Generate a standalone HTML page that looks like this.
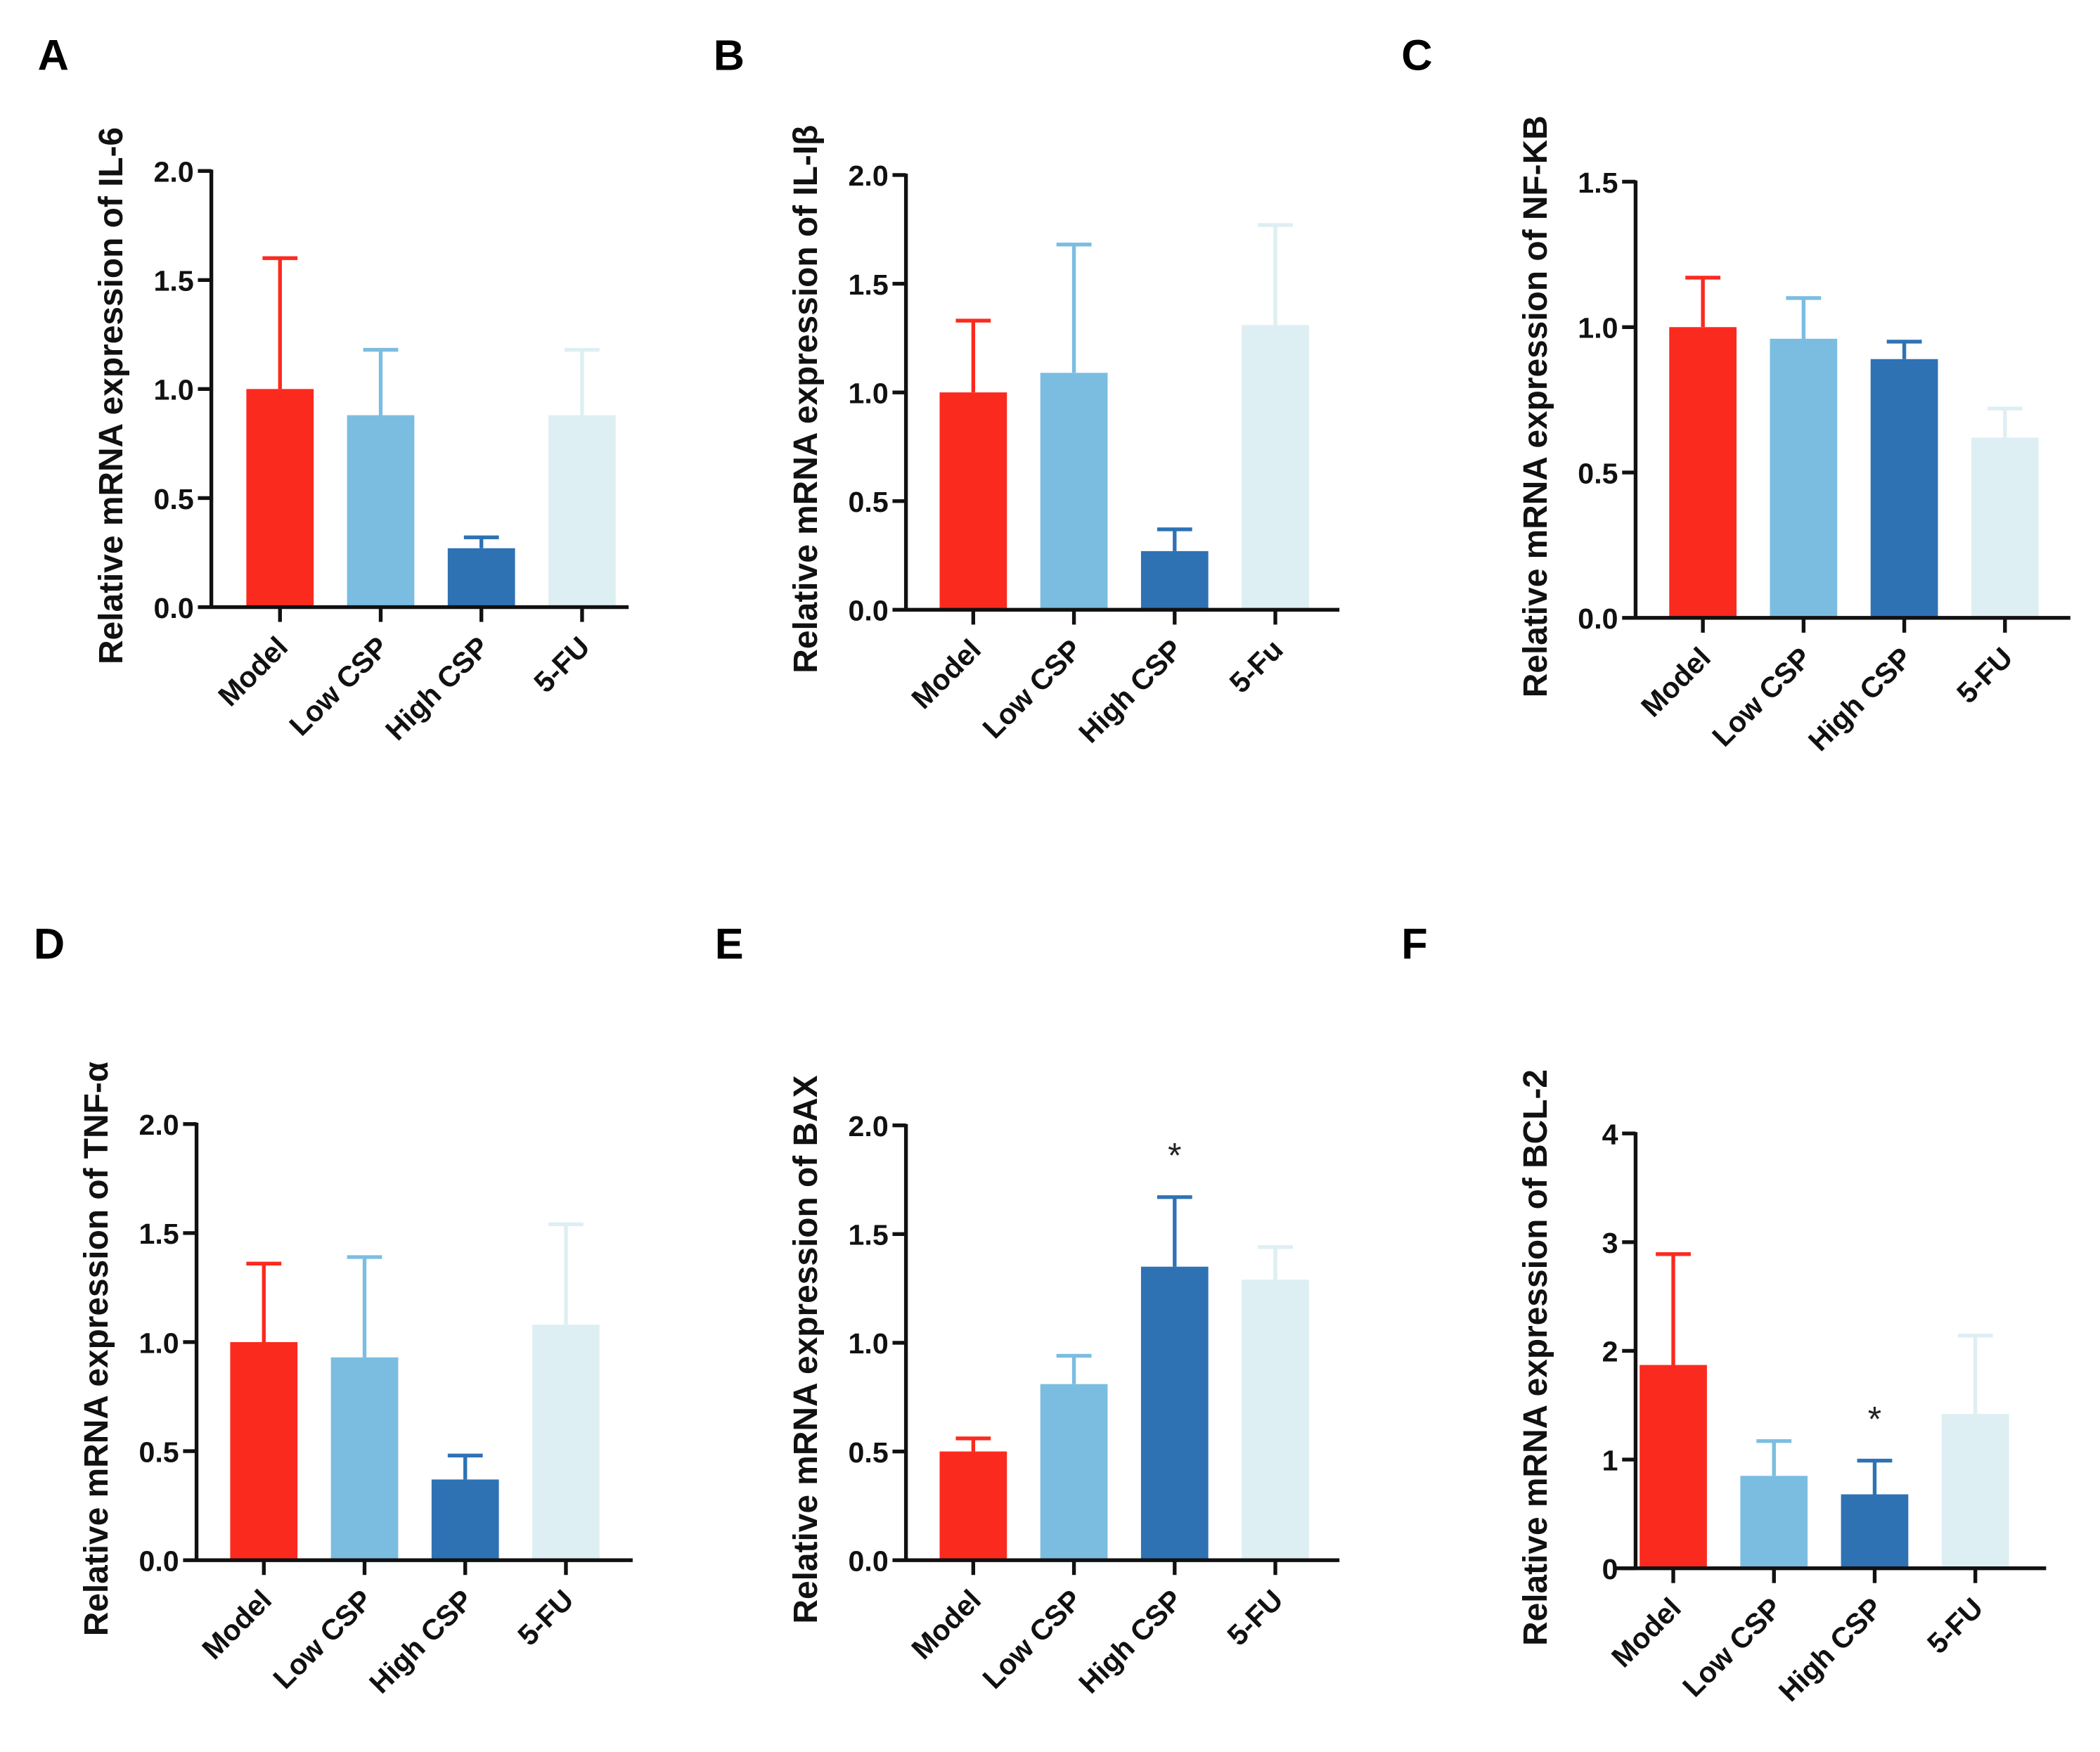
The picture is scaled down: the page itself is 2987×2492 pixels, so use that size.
<!DOCTYPE html>
<html><head><meta charset="utf-8"><style>
html,body{margin:0;padding:0;background:#fff;}
svg{display:block;font-family:"Liberation Sans",Arial,sans-serif;}
</style></head><body>
<svg id="fig" width="2987" height="2492" viewBox="0 0 1560 1301.5" preserveAspectRatio="none" xmlns="http://www.w3.org/2000/svg"></svg>
<script>
const categories = ["Model","Low CSP","High CSP","5-FU"];
const catLabelsB = ["Model","Low CSP","High CSP","5-Fu"];
const panelLetters = ["A","B","C","D","E","F"];
const yTitles = ["Relative mRNA expression of IL-6","Relative mRNA expression of IL-Iβ","Relative mRNA expression of NF-KB","Relative mRNA expression of TNF-α","Relative mRNA expression of BAX","Relative mRNA expression of BCL-2"];
const meansA = [1.0,0.88,0.27,0.88];  const errA = [1.6,1.18,0.32,1.18];
const meansB = [1.0,1.09,0.27,1.31];  const errB = [1.33,1.68,0.37,1.77];
const meansC = [1.0,0.96,0.89,0.62];  const errC = [1.17,1.10,0.95,0.72];
const meansD = [1.0,0.93,0.37,1.08];  const errD = [1.36,1.39,0.48,1.54];
const meansE = [0.5,0.81,1.35,1.29];  const errE = [0.56,0.94,1.67,1.44];
const meansF = [1.87,0.85,0.68,1.42]; const errF = [2.89,1.17,0.99,2.14];
const ticks2 = ["0.0","0.5","1.0","1.5","2.0"];
const ticks15 = ["0.0","0.5","1.0","1.5"];
const ticks4 = ["0","1","2","3","4"];
const starsE = [false,false,true,false];
const starsF = [false,false,true,false];

const colors = ["#fb2a1f","#7bbde1","#2e72b4","#deeff3"];
const NS="http://www.w3.org/2000/svg";
const svg=document.getElementById('fig');
function el(tag,attrs,parent){const e=document.createElementNS(NS,tag);for(const k in attrs)e.setAttribute(k,attrs[k]);(parent||svg).appendChild(e);return e;}

const panels=[
 {ax:157,top:127,y0:451,xe:467,c0:208,letter:[28,52],means:meansA,err:errA,ticks:ticks2,max:2,labels:categories,ylx:82,stars:null},
 {ax:673,top:130,y0:453,xe:995,c0:723,letter:[530,52],means:meansB,err:errB,ticks:ticks2,max:2,labels:catLabelsB,ylx:598,stars:null},
 {ax:1215,top:135,y0:459,xe:1538,c0:1265,letter:[1041,52],means:meansC,err:errC,ticks:ticks15,max:1.5,labels:categories,ylx:1140,stars:null},
 {ax:146,top:835,y0:1159,xe:470,c0:196,letter:[25,712],means:meansD,err:errD,ticks:ticks2,max:2,labels:categories,ylx:71,stars:null},
 {ax:673,top:836,y0:1159,xe:995,c0:723,letter:[531,712],means:meansE,err:errE,ticks:ticks2,max:2,labels:categories,ylx:598,stars:starsE},
 {ax:1215,top:842,y0:1165,xe:1520,c0:1243,letter:[1041,712],means:meansF,err:errF,ticks:ticks4,max:4,labels:categories,ylx:1140,stars:starsF,xs:1200}
];

panels.forEach((p,i)=>{
  const g=el('g',{});
  
  
  const yS=v=>p.y0-(v/p.max)*(p.y0-p.top);
  const xS=k=>p.c0+k*74.8;
  const lt=el('text',{x:p.letter[0],y:p.letter[1],'font-size':32,'font-weight':'bold',fill:'#000'},g);
  lt.textContent=panelLetters[i];
  
  
  p.means.forEach((m,k)=>{
    const cx=xS(k);
    const ey=yS(p.err[k]);
    const eb=el('path',{d:`M${cx},${yS(m)} V${ey} M${cx-13},${ey} H${cx+13}`,stroke:colors[k],'stroke-width':2.8,fill:'none'},g);
    
    
    const r=el('rect',{x:cx-25,y:yS(m),width:50,height:p.y0-yS(m),fill:colors[k]},g);
    
    
    if(p.stars&&p.stars[k]){
      const s=el('text',{x:cx,y:ey-22,'font-size':26,'text-anchor':'middle',fill:'#222'},g);
      s.textContent='*';
      
      
    }
    const t=el('line',{x1:cx,y1:p.y0,x2:cx,y2:p.y0+11,stroke:'#111','stroke-width':2.8},g);
    
    
    const lb=el('text',{x:0,y:0,'font-size':21.5,'font-weight':'bold','text-anchor':'end',fill:'#111',transform:`translate(${cx+7},${p.y0+31}) rotate(-45)`},g);
    lb.textContent=p.labels[k];
    
    
  });
  const ya=el('line',{x1:p.ax,y1:p.top-1,x2:p.ax,y2:p.y0+1,stroke:'#111','stroke-width':2.8},g);
  
  
  const xa=el('line',{x1:p.xs||p.ax,y1:p.y0,x2:p.xe,y2:p.y0,stroke:'#111','stroke-width':2.8},g);
  
  
  p.ticks.forEach(tl=>{
    const v=parseFloat(tl);const y=yS(v);
    const tk=el('line',{x1:p.ax-10,y1:y,x2:p.ax,y2:y,stroke:'#111','stroke-width':2.8},g);
    
    
    const tx=el('text',{x:p.ax-13,y:y+8,'font-size':21.5,'font-weight':'bold','text-anchor':'end',fill:'#111'},g);
    tx.textContent=tl;
    
    
  });
  const cy=(p.top+p.y0)/2+5;
  const yt=el('text',{x:0,y:0,'font-size':25,'font-weight':'bold','text-anchor':'middle',fill:'#111',transform:`translate(${p.ylx+9},${cy}) rotate(-90)`},g);
  yt.textContent=yTitles[i];
  
  
});
</script>
</body></html>
